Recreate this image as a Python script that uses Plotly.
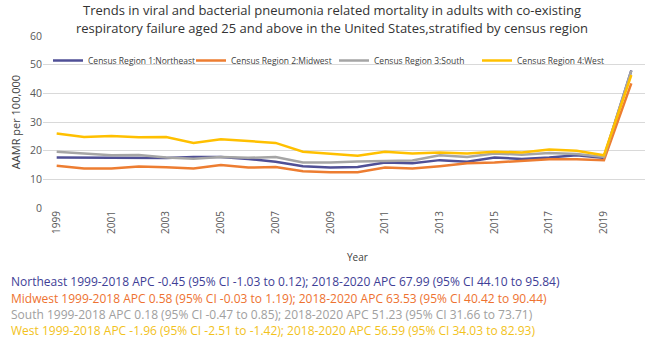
import plotly.graph_objects as go

years = [str(y) for y in range(1999, 2021)]
northeast = [17.6, 17.5, 17.5, 17.5, 17.4, 17.8, 17.8, 17.1, 16.1, 14.6, 14.1, 14.3, 15.9, 15.6, 16.7, 16.1, 17.6, 17.1, 17.6, 18.4, 17.5, 48.0]
midwest = [14.7, 13.8, 13.8, 14.5, 14.2, 13.8, 15.0, 14.1, 14.3, 12.8, 12.5, 12.5, 14.1, 13.8, 14.6, 15.6, 15.9, 16.4, 17.0, 17.0, 16.7, 43.5]
south = [19.6, 19.0, 18.4, 18.5, 17.6, 17.2, 17.8, 17.5, 17.8, 15.9, 15.9, 16.2, 16.4, 16.6, 18.4, 17.8, 19.0, 18.6, 19.2, 18.8, 17.8, 47.9]
west = [26.0, 24.8, 25.1, 24.7, 24.8, 22.7, 24.0, 23.3, 22.7, 19.6, 19.0, 18.2, 19.6, 19.0, 19.4, 19.0, 19.6, 19.4, 20.4, 20.0, 18.4, 46.4]

series_names = ["Census Region 1:Northeast", "Census Region 2:Midwest", "Census Region 3:South", "Census Region 4:West"]
series_vals = [northeast, midwest, south, west]
colors = ["#4F4F96", "#ED7D31", "#A5A5A5", "#FFC000"]

title_lines = [
    "Trends in viral and bacterial pneumonia related mortality in adults with co-existing",
    "respiratory failure aged 25 and above in the United States,stratified by census region",
]
notes = [
    "Northeast 1999-2018 APC -0.45 (95% CI -1.03 to 0.12); 2018-2020 APC 67.99 (95% CI 44.10 to 95.84)",
    "Midwest 1999-2018 APC 0.58 (95% CI -0.03 to 1.19); 2018-2020 APC 63.53 (95% CI 40.42 to 90.44)",
    "South 1999-2018 APC 0.18 (95% CI -0.47 to 0.85); 2018-2020 APC 51.23 (95% CI 31.66 to 73.71)",
    "West 1999-2018 APC -1.96 (95% CI -2.51 to -1.42); 2018-2020 APC 56.59 (95% CI 34.03 to 82.93)",
]
note_colors = ["#3E3E96", "#EE7230", "#A0A0A0", "#F2C21B"]
tick_years = [str(y) for y in range(1999, 2021, 2)]

W, H = 650, 343
ML, MR, MT, MB = 43, 5, 36, 135
PW, PH = W - ML - MR, H - MT - MB


def px(x):
    return (x - ML) / PW


def py(y):
    return (H - MB - y) / PH


fig = go.Figure()
for name, vals, c in zip(series_names, series_vals, colors):
    fig.add_trace(go.Scatter(x=years, y=vals, name=name, mode="lines",
                             line=dict(color=c, width=2.5)))

font_family = "Open Sans, Liberation Sans, sans-serif"

fig.update_layout(
    width=W, height=H,
    margin=dict(l=ML, r=MR, t=MT, b=MB),
    paper_bgcolor="white", plot_bgcolor="white",
    font=dict(family=font_family, color="#595959"),
    legend=dict(orientation="h", x=px(48), xanchor="left", y=py(46), yanchor="top",
                font=dict(size=8.5, color="#404040"), bgcolor="rgba(0,0,0,0)",
                itemwidth=30, entrywidth=98, entrywidthmode="pixels", tracegroupgap=0),
    showlegend=True,
)
fig.update_xaxes(type="category", range=[-0.5, 21.5], tickmode="array",
                 tickvals=tick_years, ticktext=tick_years,
                 tickangle=-90, tickfont=dict(size=10, color="#595959"),
                 showgrid=False, showline=False, ticks="")
fig.update_yaxes(range=[0, 60], dtick=10, showgrid=True, gridcolor="#D9D9D9",
                 zeroline=False, tickfont=dict(size=10.5, color="#595959"),
                 title=dict(text="AAMR per 100,000", font=dict(size=11, color="#404040"), standoff=7))

for t, yy in zip(title_lines, [10, 28]):
    fig.add_annotation(text=t, x=px(332), y=py(yy), xref="paper", yref="paper",
                       showarrow=False, font=dict(size=13, color="#333333", family=font_family),
                       xanchor="center", yanchor="middle")

fig.add_annotation(text="Year", x=px(357), y=py(257), xref="paper", yref="paper",
                   showarrow=False, font=dict(size=10, color="#404040", family=font_family),
                   xanchor="center", yanchor="middle")

ys = [281, 298, 314, 330]
for t, c, yy in zip(notes, note_colors, ys):
    fig.add_annotation(text=t, x=px(9), y=py(yy), xref="paper", yref="paper",
                       showarrow=False, font=dict(size=12, color=c, family=font_family),
                       xanchor="left", yanchor="middle")

fig.write_html("out.html")
